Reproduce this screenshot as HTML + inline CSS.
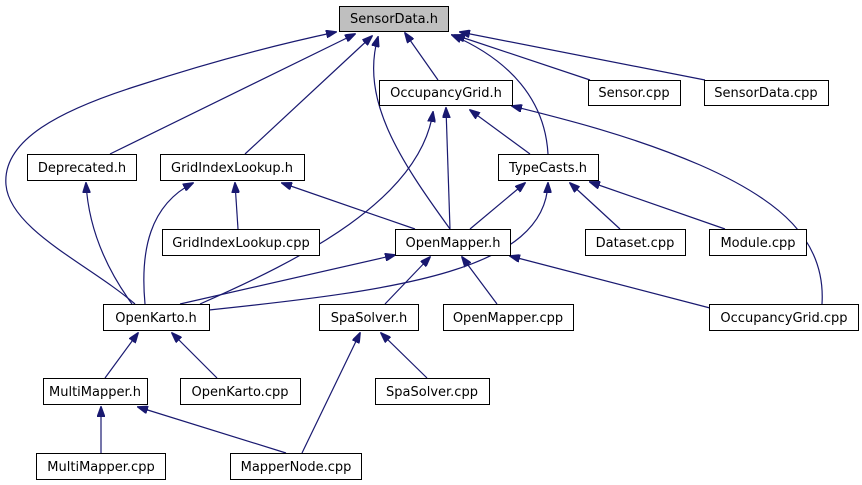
<!DOCTYPE html>
<html><head><meta charset="utf-8"><style>
body{margin:0;background:#fff;}
svg{display:block}
text{font-family:"DejaVu Sans","Liberation Sans",sans-serif;font-size:13px;fill:#000}
</style></head><body>
<svg width="862" height="485" viewBox="0 0 862 485" xmlns="http://www.w3.org/2000/svg">
<defs><marker id="a" markerWidth="11" markerHeight="8" refX="10" refY="4" orient="auto" markerUnits="userSpaceOnUse"><polygon points="0,0 11,4 0,8" fill="#191970" stroke="#191970"/></marker></defs>
<g fill="none" stroke="#191970" stroke-width="1.2" marker-end="url(#a)">
<path d="M135,304 C90,265 10,230 6,185 C2,140 60,110 140,85 C210,62 280,44 336,32"/>
<path d="M110,154 L355,34"/>
<path d="M245,154 L372,36"/>
<path d="M450,229 C400,160 360,100 378,37"/>
<path d="M438,80 L405,33"/>
<path d="M548,154 C545,100 510,60 452,35"/>
<path d="M590,80 L455,35"/>
<path d="M705,80 L460,32"/>
<path d="M200,304 C300,260 420,200 433,112"/>
<path d="M450,229 L446,108"/>
<path d="M530,154 L470,110"/>
<path d="M822,304 C826,240 780,200 700,165 C630,135 560,118 512,106"/>
<path d="M238,229 L235,183"/>
<path d="M415,229 L282,183"/>
<path d="M145,304 C140,250 150,205 193,183"/>
<path d="M132,304 C100,260 88,220 86,183"/>
<path d="M470,229 L525,183"/>
<path d="M209,310 C400,290 545,270 548,183"/>
<path d="M620,229 L570,183"/>
<path d="M725,229 L590,182"/>
<path d="M180,304 L395,255"/>
<path d="M385,304 L430,257"/>
<path d="M497,304 L462,257"/>
<path d="M710,308 L510,256"/>
<path d="M105,378 L138,333"/>
<path d="M217,378 L172,333"/>
<path d="M427,378 L381,333"/>
<path d="M302,453 L360,333"/>
<path d="M101,453 L101,407"/>
<path d="M286,453 L138,407"/>
</g>
<g stroke="#000" stroke-width="1">
<rect x="339.5" y="6.5" width="109" height="25" fill="#bfbfbf"/>
<rect x="379.5" y="80.5" width="133" height="25" fill="#fff"/>
<rect x="588.5" y="80.5" width="92" height="25" fill="#fff"/>
<rect x="704.5" y="80.5" width="124" height="25" fill="#fff"/>
<rect x="27.5" y="154.5" width="109" height="26" fill="#fff"/>
<rect x="160.5" y="154.5" width="144" height="26" fill="#fff"/>
<rect x="498.5" y="154.5" width="100" height="26" fill="#fff"/>
<rect x="162.5" y="229.5" width="157" height="26" fill="#fff"/>
<rect x="395.5" y="229.5" width="115" height="26" fill="#fff"/>
<rect x="585.5" y="229.5" width="100" height="26" fill="#fff"/>
<rect x="709.5" y="229.5" width="97" height="26" fill="#fff"/>
<rect x="103.5" y="304.5" width="106" height="26" fill="#fff"/>
<rect x="319.5" y="304.5" width="99" height="26" fill="#fff"/>
<rect x="443.5" y="304.5" width="130" height="26" fill="#fff"/>
<rect x="709.5" y="304.5" width="149" height="26" fill="#fff"/>
<rect x="43.5" y="378.5" width="104" height="26" fill="#fff"/>
<rect x="180.5" y="378.5" width="120" height="26" fill="#fff"/>
<rect x="375.5" y="378.5" width="114" height="26" fill="#fff"/>
<rect x="36.5" y="453.5" width="129" height="26" fill="#fff"/>
<rect x="230.5" y="453.5" width="131" height="26" fill="#fff"/>
</g>
<g text-anchor="middle">
<text x="394" y="23">SensorData.h</text>
<text x="446" y="97">OccupancyGrid.h</text>
<text x="634" y="97">Sensor.cpp</text>
<text x="766" y="97">SensorData.cpp</text>
<text x="82" y="172">Deprecated.h</text>
<text x="232" y="172">GridIndexLookup.h</text>
<text x="548" y="172">TypeCasts.h</text>
<text x="241" y="247">GridIndexLookup.cpp</text>
<text x="453" y="247">OpenMapper.h</text>
<text x="635" y="247">Dataset.cpp</text>
<text x="758" y="247">Module.cpp</text>
<text x="156" y="322">OpenKarto.h</text>
<text x="369" y="322">SpaSolver.h</text>
<text x="508" y="322">OpenMapper.cpp</text>
<text x="784" y="322">OccupancyGrid.cpp</text>
<text x="95" y="396">MultiMapper.h</text>
<text x="240" y="396">OpenKarto.cpp</text>
<text x="432" y="396">SpaSolver.cpp</text>
<text x="101" y="471">MultiMapper.cpp</text>
<text x="296" y="471">MapperNode.cpp</text>
</g>
</svg>
</body></html>
